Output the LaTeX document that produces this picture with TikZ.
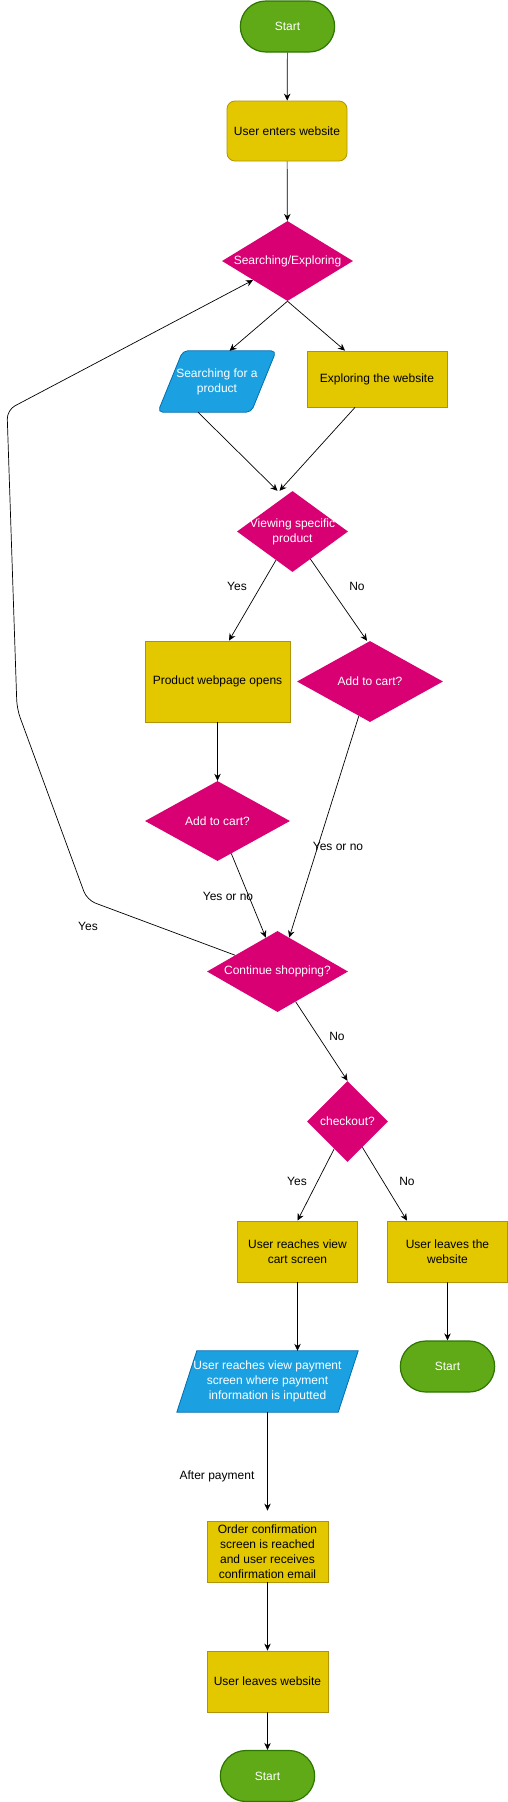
\documentclass[tikz,border=0pt]{standalone}
\usepackage{fontspec}
\setmainfont{Liberation Sans}
\usepackage{tikz}
\usetikzlibrary{shapes, shapes.geometric, shapes.misc, arrows.meta, backgrounds}

\definecolor{termfill}{HTML}{60A917}
\definecolor{termline}{HTML}{2D7600}
\definecolor{procfill}{HTML}{E3C800}
\definecolor{procline}{HTML}{B09500}
\definecolor{decfill}{HTML}{D80073}
\definecolor{iofill}{HTML}{1BA1E2}
\definecolor{ioline}{HTML}{006EAF}

\tikzset{
  terminal/.style={rounded rectangle, draw=termline, fill=termfill, line width=1.2pt,
    text=white, minimum width=101pt, minimum height=51pt},
  process/.style={rectangle, draw=procline, fill=procfill, line width=0.8pt,
    align=center, inner sep=2pt},
  decision/.style={diamond, fill=decfill, text=white, align=center,
    inner xsep=-12pt, inner ysep=0pt, aspect=1.4},
  iobox/.style={rectangle, text=white, align=center, inner sep=1pt,
    minimum height=61pt},
  ioshape/.style={draw=ioline, fill=iofill, line width=0.8pt},
  arr/.style={-{Stealth[length=7pt,width=6.5pt]}, line width=0.7pt},
  lbl/.style={text=black}
}

\begin{document}
\begin{tikzpicture}[x=1pt, y=-1pt, font=\fontsize{12}{15}\selectfont]
    \useasboundingbox (0,0) rectangle (508,1802);
    % FIRST LEVEL
    \node[terminal] (start1) at (287.5,26.5) {Start};
    \node[process, rounded corners=8pt, minimum width=120pt, minimum height=60pt] (enter) at (287,131) {User enters website};
    \node[decision, minimum width=131pt, minimum height=80pt] (srch) at (287.5,261) {Searching/Exploring};
    % search or explore
    \node[iobox, minimum width=93pt] (search) at (217,381.5) {Searching for a\\product};
    \node[process, minimum width=140pt, minimum height=56pt] (explore) at (377,379) {Exploring the website};
    \node[decision, minimum width=111pt, minimum height=81pt] (view) at (292.5,531.5) {Viewing specific\\product};
    % SECOND LEVEL
    \node[process, minimum width=145pt, minimum height=81pt] (prod) at (217.5,681.5) {Product webpage opens};
    \node[decision, minimum width=146pt, minimum height=81pt] (addr) at (370,681.5) {Add to cart?};
    \node[decision, minimum width=145pt, minimum height=80pt] (addl) at (217.5,821) {Add to cart?};
    \node[decision, minimum width=141pt, minimum height=81pt] (cont) at (277.5,971.5) {Continue shopping?};
    \node[decision, minimum width=81pt, minimum height=81pt] (chk) at (347.5,1121.5) {checkout?};
    % THIRD LEVEL
    \node[process, minimum width=120pt, minimum height=61pt] (cart) at (297.5,1251.5) {User reaches view\\cart screen};
    \node[process, minimum width=120pt, minimum height=61pt] (leave) at (447.5,1251.5) {User leaves the\\website};
    \node[terminal] (start2) at (447.5,1366.5) {Start};
    \node[iobox, minimum width=161pt] (pay) at (267.5,1381.5) {User reaches view payment\\screen where payment\\information is inputted};
    \node[process, minimum width=121pt, minimum height=61pt] (order) at (267.5,1551.5) {Order confirmation\\screen is reached\\and user receives\\confirmation email};
    \node[process, minimum width=121pt, minimum height=61pt] (bye) at (267.5,1681.5) {User leaves website};
    \node[terminal] (start3) at (267.5,1776) {Start};
    % slanted input boxes behind their text
    \begin{pgfonlayer}{background}
      \draw[ioshape, rounded corners=5pt] ([xshift=-12.5pt]search.south west) -- ([xshift=-12.5pt]search.south east)
        -- ([xshift=12.5pt]search.north east) -- ([xshift=12.5pt]search.north west) -- cycle;
      \draw[ioshape] ([xshift=-10pt]pay.south west) -- ([xshift=-10pt]pay.south east)
        -- ([xshift=10pt]pay.north east) -- ([xshift=10pt]pay.north west) -- cycle;
    \end{pgfonlayer}
    % labels
    \node[lbl] (yes1) at (237,586) {Yes};
    \node[lbl] (no1) at (357,586) {No};
    \node[lbl] (yon1) at (338,846) {Yes or no};
    \node[lbl] (yon2) at (228,896) {Yes or no};
    \node[lbl] (yes2) at (88,926) {Yes};
    \node[lbl] (no2) at (337,1036) {No};
    \node[lbl] (yes3) at (297,1181) {Yes};
    \node[lbl] (no3) at (407,1181) {No};
    \node[lbl] (after) at (217,1476) {After payment};
    % arrows
    \draw[arr] (start1) -- (enter);
    \draw[arr] (enter) -- (srch);
    \draw[arr] (srch.south) -- ([xshift=12.5pt]search.north);
    \draw[arr] (srch.south) -- ([xshift=-32pt]explore.north);
    \draw[arr] ([xshift=-19pt]search.south) -- ([xshift=-15pt]view.north);
    \draw[arr] ([xshift=-22pt]explore.south) -- ([xshift=-13pt]view.north);
    \draw[arr] (view.240) -- ([xshift=11.5pt]prod.north);
    \draw[arr] (view.303) -- ([xshift=-3pt]addr.north);
    \draw[arr] (prod) -- (addl);
    \draw[arr] (addr.252) -- (cont.71);
    \draw[arr] (addl.293) -- (cont.109);
    \draw[arr, rounded corners=9pt] (cont.159) -- (87,900) -- (17,709) -- (7,410) -- (srch.209);
    \draw[arr] (cont.301) -- (chk.north);
    \draw[arr] (chk.244) -- (cart.north);
    \draw[arr] (chk.300) -- ([xshift=-40.5pt]leave.north);
    \draw[arr] (cart.south) -- (cart.south |- pay.north);
    \draw[arr] (leave) -- (start2);
    \draw[arr, shorten >=10pt] (pay.south) -- (order.north);
    \draw[arr] (order) -- (bye);
    \draw[arr] (bye) -- (start3);
\end{tikzpicture}
\end{document}
